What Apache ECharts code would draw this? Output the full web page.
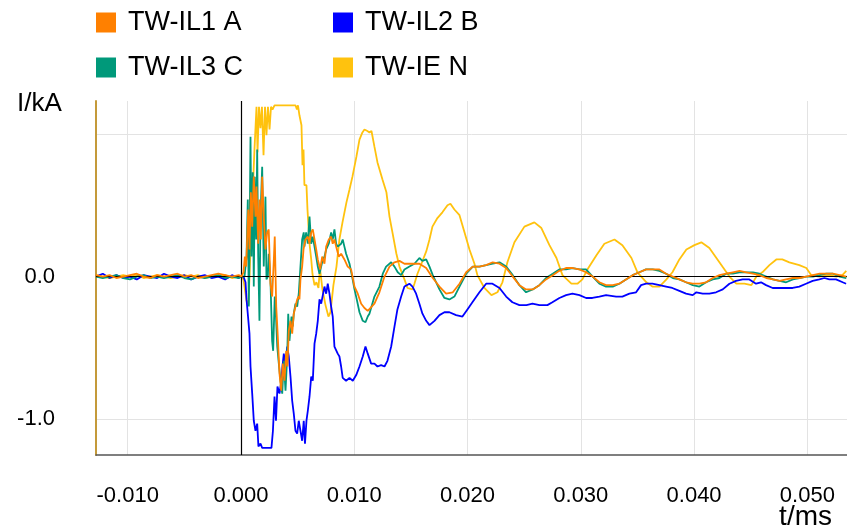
<!DOCTYPE html>
<html><head><meta charset="utf-8">
<script src="https://cdn.jsdelivr.net/npm/echarts@6/dist/echarts.min.js"></script>
<style>html,body{margin:0;padding:0;background:#fff}#c{width:847px;height:531px}</style>
</head><body><div id="c"></div>
<script>
// ---- data ----
const names = ['TW-IL1 A', 'TW-IL2 B', 'TW-IL3 C', 'TW-IE N'];
const colors = ['#ff8000', '#0000ff', '#00997a', '#ffc20e'];
const xTicks = [-0.01, 0, 0.01, 0.02, 0.03, 0.04, 0.05];
const yTicks = [-1, 0, 1];
const yLabels = [-1, 0];

// pre-trigger time samples (shared)
const tPre = [-0.0128,-0.0122,-0.0116,-0.0110,-0.0104,-0.0098,-0.0092,-0.0086,-0.0080,-0.0074,-0.0068,
  -0.0062,-0.0056,-0.0050,-0.0044,-0.0038,-0.0032,-0.0026,-0.0020,-0.0014,-0.0008,-0.0002];
const preA = [0.01,0.00,0.01,-0.01,0.00,0.01,0.02,0.00,-0.01,0.01,0.00,0.01,0.02,0.00,0.01,-0.01,0.00,0.01,0.02,0.01,0.00,0.01];
const preB = [0.00,0.02,-0.01,0.01,-0.01,0.00,-0.02,0.01,0.00,-0.01,0.02,0.00,-0.01,0.01,-0.02,0.00,0.01,-0.01,0.00,-0.02,0.01,-0.01];
const preC = [0.00,-0.01,0.00,0.01,-0.01,-0.02,0.00,0.01,-0.01,0.00,-0.01,0.00,0.01,-0.01,-0.02,0.00,-0.01,0.00,0.01,-0.01,0.00,-0.01];
const preN = [0.01,0.00,-0.01,0.00,0.01,0.00,0.01,-0.01,0.00,0.01,0.00,-0.01,0.00,0.01,0.00,0.01,-0.01,0.00,0.00,0.01,-0.01,0.00];

// TW-IL1 A
const tA = [0.00004,0.00022,0.00034,0.00046,0.00064,0.00075,0.00087,0.00099,0.00113,0.00128,
  0.00137,0.00152,0.00163,0.00175,0.00187,0.00201,0.00216,0.00231,0.00245,0.00260,
  0.00275,0.00290,0.00298,0.00311,0.00325,0.00340,0.00355,0.00369,0.00384,0.00399,
  0.00410,0.00422,0.00437,0.00452,0.00466,0.00481,0.00496,0.00510,0.00516,0.00525,
  0.00540,0.00552,0.00569,0.00590,0.00605,0.00620,0.00634,0.00649,0.00664,0.00678,
  0.00699,0.00717,0.00737,0.00752,0.00775,0.00796,0.00810,0.00825,0.00840,0.00863,
  0.00884,0.00913,0.00942,0.00972,0.01002,0.01031,0.01061,0.01090,0.01119,0.01134,
  0.01178,0.01222,0.01267,0.01311,0.01355,0.01399,0.01443,0.01487,0.01531,0.01575,
  0.01635,0.01693,0.01752,0.01811,0.01870,0.01929,0.01988,0.02046,0.02105,0.02164,
  0.02222,0.02282,0.02341,0.02399,0.02458,0.02517,0.02575,0.02634,0.02693,0.02752,
  0.02810,0.02869,0.02928,0.02987,0.03046,0.03105,0.03164,0.03223,0.03282,0.03340,
  0.03399,0.03458,0.03517,0.03576,0.03635,0.03694,0.03753,0.03812,0.03870,0.03929,
  0.03988,0.04047,0.04106,0.04165,0.04224,0.04283,0.04342,0.04401,0.04460,0.04519,
  0.04578,0.04637,0.04696,0.04754,0.04813,0.04872,0.04931,0.04990,0.05049,0.05108,
  0.05167,0.05226,0.05285,0.05344];
const iA = [0.00,0.03,0.14,0.07,0.47,0.19,0.59,0.35,0.70,0.42,
  0.63,0.23,0.54,0.26,0.70,0.42,0.19,0.31,0.33,-0.05,
  -0.14,0.12,0.28,-0.21,-0.42,-0.68,-0.80,-0.61,-0.73,-0.52,
  -0.63,-0.38,-0.31,-0.40,-0.26,-0.21,-0.16,-0.14,-0.16,-0.02,
  0.07,0.19,0.26,0.28,0.23,0.31,0.33,0.26,0.19,0.12,
  0.05,0.14,0.09,0.21,0.26,0.28,0.23,0.26,0.21,0.14,
  0.16,0.12,0.07,0.05,-0.07,-0.12,-0.19,-0.22,-0.24,-0.23,
  -0.19,-0.11,0.00,0.07,0.10,0.11,0.09,0.09,0.09,0.09,
  0.06,-0.01,-0.07,-0.12,-0.11,-0.05,0.03,0.07,0.07,0.08,
  0.10,0.09,0.06,0.00,-0.06,-0.09,-0.09,-0.06,-0.02,0.01,
  0.04,0.06,0.06,0.05,0.03,0.00,-0.04,-0.06,-0.06,-0.05,
  -0.02,0.01,0.03,0.05,0.05,0.05,0.02,0.00,-0.02,-0.04,
  -0.05,-0.05,-0.04,-0.01,0.01,0.02,0.03,0.04,0.03,0.02,
  0.01,-0.01,-0.02,-0.03,-0.02,-0.01,-0.01,0.00,0.01,0.02,
  0.02,0.02,0.01,0.00];

// TW-IL2 B
const tB = [0.00004,0.00022,0.00040,0.00049,0.00062,0.00075,0.00084,0.00099,0.00113,0.00128,
  0.00143,0.00154,0.00172,0.00187,0.00269,0.00282,0.00296,0.00309,0.00322,0.00340,
  0.00353,0.00366,0.00378,0.00393,0.00408,0.00422,0.00437,0.00452,0.00466,0.00481,
  0.00496,0.00510,0.00525,0.00540,0.00554,0.00565,0.00578,0.00590,0.00605,0.00620,
  0.00634,0.00649,0.00664,0.00678,0.00693,0.00708,0.00722,0.00737,0.00752,0.00766,
  0.00781,0.00796,0.00810,0.00825,0.00840,0.00854,0.00869,0.00884,0.00898,0.00928,
  0.00958,0.00987,0.01017,0.01046,0.01075,0.01099,0.01119,0.01149,0.01178,0.01205,
  0.01237,0.01267,0.01293,0.01326,0.01355,0.01381,0.01414,0.01443,0.01487,0.01514,
  0.01546,0.01575,0.01602,0.01635,0.01664,0.01708,0.01752,0.01796,0.01840,0.01899,
  0.01955,0.01999,0.02043,0.02105,0.02164,0.02220,0.02282,0.02341,0.02396,0.02458,
  0.02520,0.02573,0.02635,0.02705,0.02749,0.02811,0.02870,0.02926,0.02988,0.03047,
  0.03102,0.03164,0.03223,0.03312,0.03367,0.03429,0.03488,0.03532,0.03576,0.03632,
  0.03694,0.03753,0.03808,0.03870,0.03929,0.03988,0.04020,0.04076,0.04135,0.04194,
  0.04253,0.04312,0.04370,0.04429,0.04488,0.04547,0.04591,0.04635,0.04694,0.04753,
  0.04812,0.04870,0.04929,0.04988,0.05047,0.05106,0.05150,0.05194,0.05253,0.05312,
  0.05342];
const iB = [0.00,0.00,-0.04,-0.16,-0.28,-0.40,-0.63,-0.82,-1.01,-1.08,
  -1.03,-1.19,-1.17,-1.20,-1.20,-1.08,-0.84,-1.01,-0.77,-0.82,
  -0.75,-0.63,-0.54,-0.63,-0.49,-0.56,-0.70,-0.87,-0.96,-1.08,
  -1.10,-1.01,-1.08,-1.15,-1.01,-1.17,-1.01,-0.94,-0.84,-0.70,
  -0.73,-0.47,-0.40,-0.31,-0.16,-0.19,-0.20,-0.07,-0.12,-0.05,
  -0.12,-0.21,-0.28,-0.49,-0.50,-0.54,-0.56,-0.63,-0.71,-0.73,
  -0.71,-0.73,-0.69,-0.63,-0.56,-0.49,-0.54,-0.61,-0.61,-0.63,
  -0.62,-0.63,-0.59,-0.49,-0.35,-0.23,-0.14,-0.07,-0.05,-0.07,
  -0.12,-0.19,-0.26,-0.31,-0.34,-0.31,-0.27,-0.25,-0.25,-0.27,
  -0.28,-0.23,-0.18,-0.11,-0.05,-0.05,-0.08,-0.14,-0.18,-0.20,
  -0.20,-0.19,-0.20,-0.20,-0.18,-0.15,-0.13,-0.12,-0.13,-0.15,
  -0.15,-0.14,-0.13,-0.14,-0.14,-0.12,-0.11,-0.06,-0.05,-0.05,
  -0.06,-0.07,-0.08,-0.10,-0.12,-0.13,-0.11,-0.12,-0.12,-0.11,
  -0.09,-0.05,-0.03,-0.02,-0.02,-0.05,-0.04,-0.06,-0.08,-0.08,
  -0.08,-0.08,-0.07,-0.05,-0.03,-0.02,-0.01,-0.02,-0.02,-0.04,
  -0.05];

// TW-IL3 C
const tC = [0.00004,0.00031,0.00049,0.00060,0.00069,0.00075,0.00084,0.00093,0.00104,0.00113,
  0.00122,0.00134,0.00143,0.00152,0.00163,0.00172,0.00187,0.00201,0.00216,0.00225,
  0.00237,0.00245,0.00260,0.00275,0.00284,0.00298,0.00304,0.00320,0.00334,0.00349,
  0.00364,0.00378,0.00393,0.00408,0.00417,0.00428,0.00446,0.00457,0.00466,0.00481,
  0.00496,0.00510,0.00525,0.00540,0.00554,0.00560,0.00575,0.00590,0.00605,0.00620,
  0.00634,0.00649,0.00664,0.00678,0.00693,0.00708,0.00722,0.00737,0.00752,0.00775,
  0.00796,0.00810,0.00825,0.00840,0.00854,0.00884,0.00898,0.00913,0.00928,0.00958,
  0.00981,0.01002,0.01022,0.01046,0.01075,0.01099,0.01119,0.01134,0.01178,0.01222,
  0.01252,0.01281,0.01326,0.01355,0.01384,0.01414,0.01443,0.01487,0.01531,0.01575,
  0.01602,0.01635,0.01664,0.01693,0.01723,0.01752,0.01796,0.01840,0.01884,0.01929,
  0.01988,0.02046,0.02105,0.02164,0.02222,0.02282,0.02341,0.02399,0.02458,0.02517,
  0.02575,0.02634,0.02693,0.02752,0.02810,0.02869,0.02928,0.02987,0.03046,0.03105,
  0.03164,0.03223,0.03282,0.03340,0.03399,0.03458,0.03517,0.03576,0.03635,0.03694,
  0.03753,0.03812,0.03870,0.03929,0.03988,0.04047,0.04106,0.04165,0.04224,0.04283,
  0.04342,0.04401,0.04460,0.04519,0.04578,0.04637,0.04696,0.04754,0.04813,0.04872,
  0.04931,0.04990,0.05049,0.05108,0.05167,0.05226,0.05285,0.05344];
const iC = [0.00,0.00,0.14,0.54,-0.21,0.19,0.98,0.14,0.73,-0.07,
  0.70,0.26,0.89,0.14,-0.31,0.42,0.77,0.07,0.56,-0.02,
  0.00,0.16,-0.02,-0.45,-0.52,-0.14,-0.19,-0.49,-0.61,-0.73,
  -0.82,-0.59,-0.80,-0.56,-0.26,-0.45,-0.28,-0.35,-0.26,-0.19,
  -0.21,-0.12,0.07,0.26,0.31,0.21,0.31,0.23,0.42,0.23,
  0.28,0.21,0.14,0.07,0.02,0.07,0.12,0.14,0.19,0.23,
  0.31,0.26,0.33,0.23,0.21,0.23,0.26,0.21,0.16,0.09,
  0.00,-0.09,-0.16,-0.25,-0.31,-0.32,-0.28,-0.26,-0.14,-0.07,
  0.02,0.07,0.10,0.07,0.03,0.01,0.05,0.07,0.09,0.13,
  0.11,0.12,0.07,0.01,-0.04,-0.09,-0.15,-0.16,-0.14,-0.07,
  0.02,0.07,0.07,0.08,0.09,0.10,0.07,0.01,-0.06,-0.11,
  -0.09,-0.06,-0.01,0.02,0.05,0.05,0.06,0.05,0.05,0.00,
  -0.05,-0.07,-0.07,-0.05,-0.02,0.01,0.03,0.05,0.05,0.04,
  0.02,-0.01,-0.02,-0.04,-0.06,-0.07,-0.04,-0.02,-0.01,0.02,
  0.02,0.03,0.03,0.03,0.02,0.00,-0.02,-0.03,-0.04,-0.02,
  -0.01,0.00,0.00,0.01,0.02,0.02,0.00,-0.01];

// TW-IE N
const tN = [0.00004,0.00022,0.00049,0.00066,0.00084,0.00101,0.00119,0.00137,0.00146,0.00159,
  0.00172,0.00185,0.00199,0.00212,0.00225,0.00238,0.00252,0.00265,0.00278,0.00296,
  0.00384,0.00481,0.00494,0.00503,0.00516,0.00534,0.00543,0.00552,0.00560,0.00578,
  0.00587,0.00605,0.00620,0.00631,0.00649,0.00666,0.00684,0.00697,0.00719,0.00746,
  0.00772,0.00790,0.00816,0.00843,0.00869,0.00896,0.00931,0.00958,0.00984,0.01019,
  0.01046,0.01072,0.01090,0.01116,0.01134,0.01152,0.01178,0.01205,0.01249,0.01284,
  0.01311,0.01337,0.01372,0.01399,0.01443,0.01470,0.01487,0.01514,0.01531,0.01558,
  0.01593,0.01637,0.01664,0.01690,0.01734,0.01778,0.01823,0.01849,0.01884,0.01929,
  0.01973,0.02017,0.02061,0.02087,0.02149,0.02211,0.02264,0.02308,0.02352,0.02414,
  0.02502,0.02590,0.02652,0.02723,0.02785,0.02838,0.02917,0.02970,0.03014,0.03058,
  0.03138,0.03208,0.03297,0.03367,0.03447,0.03500,0.03579,0.03632,0.03694,0.03756,
  0.03809,0.03870,0.03932,0.04003,0.04064,0.04135,0.04197,0.04250,0.04312,0.04373,
  0.04444,0.04506,0.04550,0.04603,0.04665,0.04726,0.04779,0.04841,0.04929,0.04991,
  0.05035,0.05106,0.05194,0.05256,0.05309,0.05344];
const iN = [0.00,-0.02,-0.17,-0.20,0.19,0.54,0.89,1.19,0.87,1.19,
  1.04,1.19,0.85,1.19,0.99,1.19,1.03,1.19,1.17,1.20,
  1.20,1.20,1.17,1.20,1.13,1.06,0.78,0.89,0.64,0.64,
  0.47,0.23,0.12,0.02,-0.06,-0.04,-0.08,0.06,-0.09,-0.20,
  -0.28,-0.25,-0.06,0.07,0.26,0.38,0.52,0.61,0.70,0.84,
  0.96,1.01,1.03,1.02,1.01,1.02,0.91,0.80,0.68,0.59,
  0.42,0.31,0.16,0.07,-0.02,-0.08,-0.07,-0.09,-0.05,0.02,
  0.09,0.18,0.26,0.35,0.41,0.45,0.50,0.51,0.47,0.43,
  0.31,0.19,0.09,0.01,-0.08,-0.13,-0.11,-0.04,0.10,0.24,
  0.35,0.38,0.34,0.22,0.13,0.01,-0.05,-0.05,-0.02,0.05,
  0.15,0.23,0.26,0.22,0.13,0.03,-0.04,-0.07,-0.07,-0.02,
  0.03,0.12,0.19,0.22,0.24,0.20,0.13,0.07,0.00,-0.05,
  -0.05,-0.06,0.00,0.03,0.08,0.12,0.12,0.10,0.08,0.06,
  0.01,0.00,0.01,0.00,0.01,0.04];

// ---- chart ----
const FONT = 'Liberation Sans, Arial, sans-serif';
function build(t, v, pre) {
  const out = tPre.map((x, i) => [x, pre[i]]);
  const n = Math.min(t.length, v.length);
  for (let i = 0; i < n; i++) out.push([t[i], v[i]]);
  return out;
}
const dataSets = [build(tA, iA, preA), build(tB, iB, preB), build(tC, iC, preC), build(tN, iN, preN)];
const drawOrder = [3, 1, 2, 0];

const chart = echarts.init(document.getElementById('c'), null, { renderer: 'canvas' });
const legendPos = [[96, 9], [333, 9], [96, 54], [333, 54]];
chart.setOption({
  animation: false,
  backgroundColor: '#ffffff',
  textStyle: { fontFamily: FONT },
  legend: names.map((nm, i) => ({
    data: [nm], left: legendPos[i][0], top: legendPos[i][1], icon: 'rect', padding: 0,
    itemWidth: 20, itemHeight: 20, selectedMode: false,
    textStyle: { fontSize: 27, color: '#000', fontFamily: FONT, padding: [0, 0, 0, 7] }
  })),
  grid: { left: 96, right: 0, top: 101, bottom: 76 },
  xAxis: {
    type: 'value', min: -0.0128, max: 0.0535,
    axisLine: { show: true, onZero: false, lineStyle: { color: '#555', width: 1.5 } },
    axisTick: { show: false, customValues: xTicks },
    axisLabel: { customValues: xTicks, formatter: v => v.toFixed(3), fontSize: 22, color: '#000', margin: 30, fontFamily: FONT },
    splitLine: { show: true, lineStyle: { color: '#e3e3e3', width: 1 } }
  },
  yAxis: {
    type: 'value', min: -1.25, max: 1.23,
    axisLine: { show: true, onZero: false, lineStyle: { color: '#c49a3a', width: 2 } },
    axisTick: { show: false, customValues: yTicks },
    axisLabel: { customValues: yLabels, formatter: v => v.toFixed(1), fontSize: 22, color: '#000', margin: 41, fontFamily: FONT },
    splitLine: { show: true, lineStyle: { color: '#e3e3e3', width: 1 } }
  },
  graphic: [
    { type: 'text', x: 17, y: 104, style: { text: 'I/kA', fill: '#000', font: '26px ' + FONT, align: 'left', verticalAlign: 'middle' } },
    { type: 'text', x: 832, y: 517, style: { text: 't/ms', fill: '#000', font: '28px ' + FONT, align: 'right', verticalAlign: 'middle' } }
  ],
  series: drawOrder.map((k, j) => {
    const s = {
      name: names[k], type: 'line', data: dataSets[k], symbol: 'none', showSymbol: false,
      color: colors[k], lineStyle: { width: 1.8, color: colors[k] }, itemStyle: { color: colors[k] },
      emphasis: { disabled: true }, z: 2 + j
    };
    if (j === 0) {
      s.markLine = {
        silent: true, symbol: ['none', 'none'], label: { show: false },
        lineStyle: { color: '#000', width: 1.2, type: 'solid' },
        data: [{ yAxis: 0 }, { xAxis: 0 }]
      };
    }
    return s;
  })
});
</script></body></html>
